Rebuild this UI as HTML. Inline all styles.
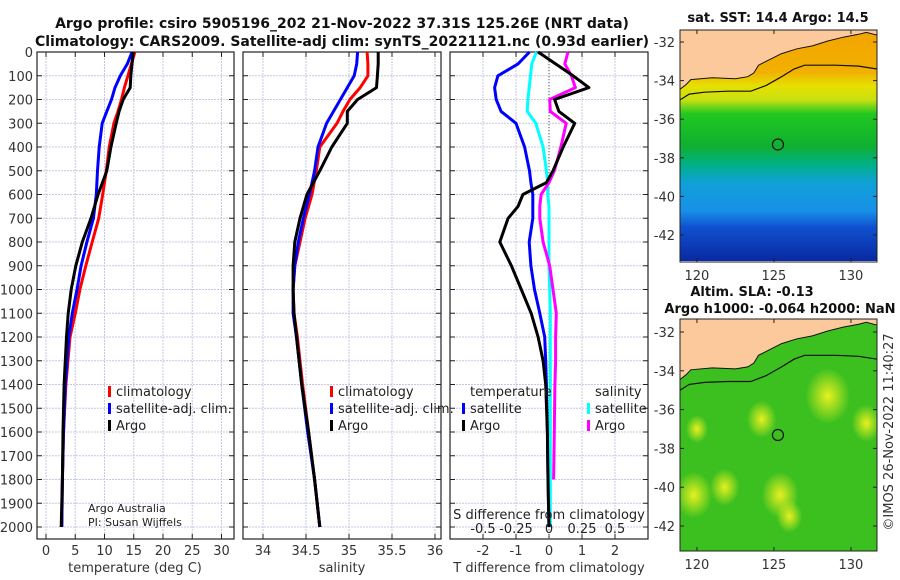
<!DOCTYPE html>
<html><head><meta charset="utf-8"><style>
body{margin:0;background:#fff;}
svg{display:block;font-family:"DejaVu Sans","Liberation Sans",sans-serif;}
</style></head><body>
<svg id="c" width="900" height="580" viewBox="0 0 900 580">
<defs>
<linearGradient id="sstg" x1="0" y1="0" x2="0" y2="1">
<stop offset="0" stop-color="#f2a400"/><stop offset="0.18" stop-color="#f2b000"/>
<stop offset="0.24" stop-color="#e6e000"/><stop offset="0.3" stop-color="#c8e010"/>
<stop offset="0.36" stop-color="#20c820"/><stop offset="0.5" stop-color="#10b030"/>
<stop offset="0.58" stop-color="#00b088"/><stop offset="0.66" stop-color="#10a0d8"/>
<stop offset="0.78" stop-color="#1890e8"/><stop offset="0.85" stop-color="#1050d0"/>
<stop offset="1" stop-color="#0828a0"/></linearGradient>
<radialGradient id="blob"><stop offset="0" stop-color="#e8f020"/><stop offset="1" stop-color="#e8f020" stop-opacity="0"/></radialGradient>
<clipPath id="m1"><rect x="680" y="30" width="197" height="231"/></clipPath>
<clipPath id="m2"><rect x="680" y="319" width="197" height="232"/></clipPath>
</defs>
<g id="root"></g>
</svg>
<script>
const depthsP=[0,50,100,150,200,250,300,400,500,600,700,800,900,1000,1100,1200,1400,1600,1800,2000];
const tArgo=[14.9,14.7,14.5,14.4,13.2,12.5,12.0,11.1,10.4,8.9,7.7,6.2,5.1,4.3,3.8,3.5,3.1,2.9,2.8,2.6];
const tClim=[15.2,14.6,14.0,13.4,12.9,12.3,11.6,10.8,10.3,9.7,9.0,7.9,6.8,5.8,5.0,4.1,3.4,3.0,2.8,2.7];
const tSat=[14.7,13.9,12.7,11.8,11.2,10.4,9.6,9.1,8.8,8.6,8.1,7.0,6.0,5.3,4.5,3.9,3.3,3.0,2.8,2.7];
const sArgo=[35.34,35.34,35.33,35.32,35.10,34.98,34.98,34.80,34.66,34.51,34.43,34.37,34.35,34.35,34.36,34.39,34.45,34.53,34.60,34.66];
const sClim=[35.21,35.22,35.22,35.13,35.01,34.93,34.86,34.66,34.62,34.57,34.49,34.43,34.37,34.35,34.36,34.40,34.46,34.53,34.60,34.66];
const sSat=[35.10,35.09,35.06,34.98,34.90,34.82,34.74,34.64,34.60,34.54,34.47,34.41,34.37,34.35,34.35,34.39,34.45,34.52,34.60,34.66];
const depthsD=[0,50,100,150,200,250,300,400,500,550,600,650,700,800,900,1000,1100,1200,1300,1400,1600,1800,2000];
const dTArgo=[-0.33,0.2,0.73,1.21,0.17,0.3,0.78,0.43,0.12,-0.08,-0.79,-0.94,-1.24,-1.49,-1.14,-0.84,-0.54,-0.33,-0.18,-0.1,-0.05,-0.03,0];
const dTSat=[-0.59,-0.94,-1.55,-1.65,-1.6,-1.45,-1.0,-0.74,-0.59,-0.55,-0.49,-0.49,-0.49,-0.6,-0.55,-0.44,-0.28,-0.13,-0.1,-0.08,-0.05,-0.03,0];
const dSSat=[-0.096,-0.13,-0.14,-0.15,-0.16,-0.165,-0.1,-0.045,-0.02,-0.01,-0.01,0,0,0,0,0.005,0.01,0.01,0.01,0.01,0.01,0.01,0.01];
const dSArgo=[0.144,0.12,0.17,0.2,0.005,0.01,0.13,0.09,0.04,0,-0.06,-0.07,-0.07,-0.045,0.005,0.03,0.055,0.05,0.05,0.045,0.04,0.035,null];
const depthTicks=[0,100,200,300,400,500,600,700,800,900,1000,1100,1200,1300,1400,1500,1600,1700,1800,1900,2000];
const tTicks=[0,5,10,15,20,25,30];
const sTicks=[34,34.5,35,35.5,36];
const dTTicks=[-2,-1,0,1,2];
const dSTicks=[-0.5,-0.25,0,0.25,0.5];
const dSTickLabels=["-0.5","-0.25","0","0.25","0.5"];
const latTicks=[-32,-34,-36,-38,-40,-42];
const lonTicks=[120,125,130];
const coastLon=[118.9,119.3,119.6,121,122.5,123.3,123.7,124.0,124.5,125.5,126.5,127.5,128.5,129.5,130.5,131.0,131.7];
const coastLat=[-34.45,-34.2,-33.95,-33.85,-33.9,-33.8,-33.6,-33.2,-33.0,-32.6,-32.35,-32.2,-31.95,-31.75,-31.6,-31.5,-31.65];
const shelfLon=[118.9,119.5,120.5,122,123.5,124.5,125.5,126.3,127,129,130.5,131.7];
const shelfLat=[-35.0,-34.7,-34.6,-34.55,-34.55,-34.25,-33.8,-33.4,-33.2,-33.2,-33.25,-33.4];
const blobLon=[119.8,121.8,125.4,124.2,128.5,131.0,120.0,126.0];
const blobLat=[-40.4,-40.0,-40.4,-36.5,-35.3,-36.7,-37.0,-41.5];
const blobR=[1.0,0.8,1.0,0.8,1.2,0.8,0.6,0.7];
const argoLon=125.26, argoLat=-37.31;

const NS="http://www.w3.org/2000/svg";
const root=document.getElementById('root');
function el(tag,attrs,parent,txt){const e=document.createElementNS(NS,tag);for(const k in attrs)e.setAttribute(k,attrs[k]);if(txt!==undefined)e.textContent=txt;(parent||root).appendChild(e);return e;}
const Y=d=>52+d*0.2375;
const TOP=52,BOT=539;
const panels=[
 {x0:37,x1:234,sx:v=>46+v*5.85,ticks:tTicks,labels:tTicks.map(String),name:'temperature-panel'},
 {x0:243,x1:441,sx:v=>263+(v-34)*86,ticks:sTicks,labels:sTicks.map(String),name:'salinity-panel'},
 {x0:450,x1:648,sx:v=>549+v*33,ticks:dTTicks,labels:dTTicks.map(String),name:'difference-panel'}
];
panels.forEach((p,pi)=>{
 const g=el('g',{});
 
 
 depthTicks.forEach(d=>{if(d>0){const l=el('line',{x1:p.x0,x2:p.x1,y1:Y(d),y2:Y(d),stroke:'#c4c8e4','stroke-width':1,'stroke-dasharray':'2,1'},g);}
  el('line',{x1:p.x0,x2:p.x0+5,y1:Y(d),y2:Y(d),stroke:'#222'},g);el('line',{x1:p.x1-5,x2:p.x1,y1:Y(d),y2:Y(d),stroke:'#222'},g);});
 p.ticks.forEach((v,i)=>{const x=p.sx(v);
  const l=el('line',{x1:x,x2:x,y1:TOP,y2:BOT,stroke:'#c4c8e4','stroke-width':1,'stroke-dasharray':'2,1'},g);
  
  el('line',{x1:x,x2:x,y1:BOT-5,y2:BOT,stroke:'#222'},g);el('line',{x1:x,x2:x,y1:TOP,y2:TOP+5,stroke:'#222'},g);
  const t=el('text',{x:x,y:555,'font-size':13,'text-anchor':'middle',fill:'#333'},g,p.labels[i]);
  });
 const r=el('rect',{x:p.x0,y:TOP,width:p.x1-p.x0,height:BOT-TOP,fill:'none',stroke:'#222','stroke-width':1.2},g);
 
});
depthTicks.forEach(d=>{const t=el('text',{x:33,y:Y(d)+5,'font-size':13,'text-anchor':'end',fill:'#333'},root,String(d));
 });
// zero line panel 3
const z=el('line',{x1:549,x2:549,y1:TOP,y2:BOT,stroke:'#555','stroke-dasharray':'1,2'});

function line(depths,vals,sx,color,name){
 let pts=[];depths.forEach((d,i)=>{if(vals[i]!==null)pts.push(sx(vals[i]).toFixed(1)+','+Y(d).toFixed(1));});
 const e=el('polyline',{points:pts.join(' '),fill:'none',stroke:color,'stroke-width':3,'stroke-linejoin':'round'});
 }
const P=panels;
line(depthsP,tClim,P[0].sx,'#ff0000','temperature-climatology-line');
line(depthsP,tSat,P[0].sx,'#0000ff','temperature-satellite-line');
line(depthsP,tArgo,P[0].sx,'#000','temperature-argo-line');
line(depthsP,sClim,P[1].sx,'#ff0000','salinity-climatology-line');
line(depthsP,sSat,P[1].sx,'#0000ff','salinity-satellite-line');
line(depthsP,sArgo,P[1].sx,'#000','salinity-argo-line');
const sxS=v=>549+v*132;
line(depthsD,dTSat,P[2].sx,'#0000ff','tdiff-satellite-line');
line(depthsD,dSSat,sxS,'#00ffff','sdiff-satellite-line');
line(depthsD,dSArgo,sxS,'#ff00ff','sdiff-argo-line');
line(depthsD,dTArgo,P[2].sx,'#000','tdiff-argo-line');
// S axis inside panel 3
const st=el('text',{x:549,y:519,'font-size':13,'text-anchor':'middle',fill:'#222'},root,'S difference from climatology');

dSTicks.forEach((v,i)=>{const t=el('text',{x:sxS(v),y:533,'font-size':13,'text-anchor':'middle',fill:'#222'},root,dSTickLabels[i]);
 });
// axis titles
[['temperature (deg C)',135,'temperature-axis-title'],['salinity',342,'salinity-axis-title'],['T difference from climatology',549,'tdiff-axis-title']].forEach(a=>{
 const t=el('text',{x:a[1],y:572,'font-size':13,'text-anchor':'middle',fill:'#333'},root,a[0]);
 });
// legends
function leg(x,y,color,label,name){const g=el('g',{});
 el('rect',{x:x,y:y-10,width:3,height:11,fill:color},g);el('text',{x:x+8,y:y,'font-size':13,fill:'#222'},g,label);}
leg(108,396,'#ff0000','climatology','legend-climatology');
leg(108,413,'#0000ff','satellite-adj. clim.','legend-satellite');
leg(108,430,'#000','Argo','legend-argo');
leg(330,396,'#ff0000','climatology','legend-climatology-2');
leg(330,413,'#0000ff','satellite-adj. clim.','legend-satellite-2');
leg(330,430,'#000','Argo','legend-argo-2');
let t1=el('text',{x:470,y:396,'font-size':13,fill:'#222'},root,'temperature');
let t2=el('text',{x:595,y:396,'font-size':13,fill:'#222'},root,'salinity');
leg(462,413,'#0000ff','satellite','legend-t-satellite');
leg(462,430,'#000','Argo','legend-t-argo');
leg(587,413,'#00ffff','satellite','legend-s-satellite');
leg(587,430,'#ff00ff','Argo','legend-s-argo');
let pa=el('text',{x:88,y:512,'font-size':11,fill:'#222'},root,'Argo Australia');
let pb=el('text',{x:88,y:526,'font-size':11,fill:'#222'},root,'PI: Susan Wijffels');
// titles
let ta=el('text',{x:342,y:28,'font-size':14,'font-weight':'bold','text-anchor':'middle',fill:'#111'},root,'Argo profile: csiro 5905196_202 21-Nov-2022 37.31S 125.26E (NRT data)');
let tb=el('text',{x:342,y:46,'font-size':14,'font-weight':'bold','text-anchor':'middle',fill:'#111'},root,'Climatology: CARS2009. Satellite-adj clim: synTS_20221121.nc (0.93d earlier)');
// maps
function drawMap(top,latY,clip,kind,name){
 const LX=lon=>680+(lon-118.9)*15.4;
 const g=el('g',{});
 const c=el('g',{'clip-path':'url(#'+clip+')'},g);
 if(kind==='sst'){el('rect',{x:680,y:latY(-31.4),width:197,height:latY(-43.4)-latY(-31.4),fill:'url(#sstg)'},c);}
 else{el('rect',{x:680,y:top,width:197,height:232,fill:'#3cc020'},c);
  blobLon.forEach((lo,i)=>{const b=el('ellipse',{cx:LX(lo),cy:latY(blobLat[i]),rx:blobR[i]*15.4*1.2,ry:blobR[i]*19.3*1.2,fill:'url(#blob)'},c);});}
 let land=coastLon.map((lo,i)=>LX(lo).toFixed(1)+','+latY(coastLat[i]).toFixed(1));
 land.push('880,'+(top-5),'678,'+(top-5));
 el('polygon',{points:land.join(' '),fill:'#fbc99b'},c);
 el('polyline',{points:coastLon.map((lo,i)=>LX(lo).toFixed(1)+','+latY(coastLat[i]).toFixed(1)).join(' '),fill:'none',stroke:'#111','stroke-width':1},c);
 el('polyline',{points:shelfLon.map((lo,i)=>LX(lo).toFixed(1)+','+latY(shelfLat[i]).toFixed(1)).join(' '),fill:'none',stroke:'#111','stroke-width':1.2},c);
 const m=el('circle',{cx:LX(argoLon),cy:latY(argoLat),r:5.5,fill:'none',stroke:'#111','stroke-width':1.2},g);
 
 el('rect',{x:680,y:top,width:197,height:232,fill:'none',stroke:'#222'},g);
 latTicks.forEach(la=>{const y=latY(la);el('line',{x1:680,x2:684,y1:y,y2:y,stroke:'#222'},g);el('line',{x1:873,x2:877,y1:y,y2:y,stroke:'#222'},g);
  const t=el('text',{x:675,y:y+5,'font-size':13,'text-anchor':'end',fill:'#333'},g,String(la));});
 lonTicks.forEach(lo=>{const x=LX(lo);el('line',{x1:x,x2:x,y1:top+228,y2:top+232,stroke:'#222'},g);el('line',{x1:x,x2:x,y1:top,y2:top+4,stroke:'#222'},g);
  const t=el('text',{x:x,y:top+250,'font-size':13,'text-anchor':'middle',fill:'#333'},g,String(lo));});
}
drawMap(30,la=>42+(-32-la)*19.3,'m1','sst','sst-map');
drawMap(319,la=>332+(-32-la)*19.4,'m2','sla','sla-map');
let m1=el('text',{x:778,y:22,'font-size':13,'font-weight':'bold','text-anchor':'middle',fill:'#111'},root,'sat. SST: 14.4 Argo: 14.5');
let m2=el('text',{x:752,y:296,'font-size':13,'font-weight':'bold','text-anchor':'middle',fill:'#111'},root,'Altim. SLA: -0.13');
let m3=el('text',{x:780,y:313,'font-size':13,'font-weight':'bold','text-anchor':'middle',fill:'#111'},root,'Argo h1000: -0.064 h2000: NaN');
let im=el('text',{x:893,y:432,'font-size':13,'text-anchor':'middle',fill:'#333',transform:'rotate(-90 893 432)'},root,'©IMOS 26-Nov-2022 11:40:27');
</script>
</body></html>
